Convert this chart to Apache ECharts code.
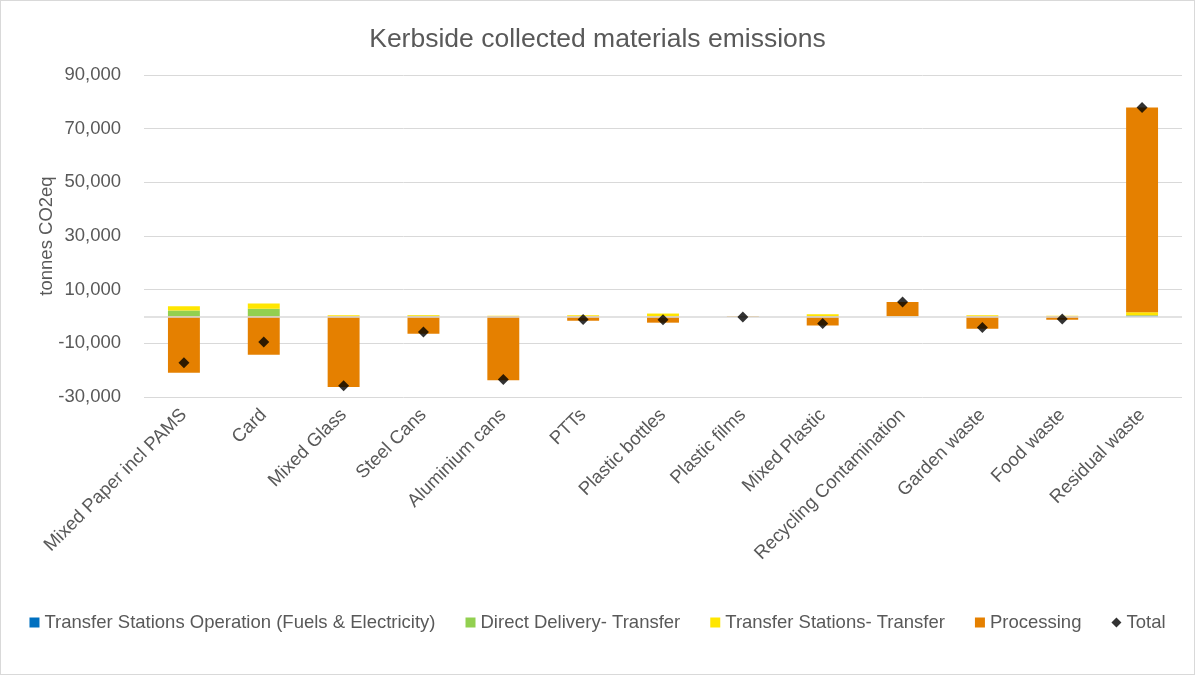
<!DOCTYPE html>
<html>
<head>
<meta charset="utf-8">
<script src="https://cdn.jsdelivr.net/npm/echarts@6/dist/echarts.min.js"></script>
<style>
  html, body { margin: 0; padding: 0; background: #fff; }
  #chart { width: 1195px; height: 675px; box-sizing: border-box; border: 1px solid #d9d9d9; }
</style>
</head>
<body>
<div id="chart"></div>
<script>
// Kerbside materials, emissions by stage (tonnes CO2eq)
const categories = [
  'Mixed Paper incl PAMS', 'Card', 'Mixed Glass', 'Steel Cans', 'Aluminium cans',
  'PTTs', 'Plastic bottles', 'Plastic films', 'Mixed Plastic',
  'Recycling Contamination', 'Garden waste', 'Food waste', 'Residual waste'
];
const tsOperation    = [0, 0, 0, 0, 0, 0, 0, 0, 0, 0, 0, 0, 400];
const directDelivery = [2200, 2850, 0, 300, 0, 0, 0, 0, 200, 0, 0, 0, 0];
const tsTransfer     = [1600, 1950, 500, 300, 300, 500, 1100, 50, 600, 100, 500, 300, 1200];
const processing     = [-21000, -14300, -26300, -6400, -23800, -1600, -2300, -200, -3400, 5300, -4600, -1200, 76300];
const yTicks = { min: -30000, max: 90000, interval: 20000 };

const seriesNames = [
  'Transfer Stations Operation (Fuels & Electricity)',
  'Direct Delivery- Transfer',
  'Transfer Stations- Transfer',
  'Processing',
  'Total'
];
const colors = ['#0070c0', '#92d050', '#ffe600', '#e58000', '#000000'];

// Total per material = sum of its stages
const totals = categories.map((_, i) =>
  tsOperation[i] + directDelivery[i] + tsTransfer[i] + processing[i]);

const textColor = '#595959';
const font = 'Liberation Sans, Arial, sans-serif';
const fs = 18.5;

function barSeries(name, data, color, extra) {
  return Object.assign({
    name: name,
    type: 'bar',
    stack: 'emissions',
    barWidth: '40%',
    data: data,
    itemStyle: { color: color },
    emphasis: { disabled: true }
  }, extra || {});
}

const chart = echarts.init(document.getElementById('chart'));
chart.setOption({
  animation: false,
  textStyle: { fontFamily: font },
  title: {
    text: 'Kerbside collected materials emissions',
    left: 'center',
    top: 20,
    textStyle: { color: textColor, fontSize: 26.5, fontWeight: 'normal', fontFamily: font }
  },
  grid: { left: 143, right: 12, top: 74, bottom: 277 },
  legend: {
    bottom: 37,
    left: 'center',
    itemWidth: 10,
    itemHeight: 10,
    itemGap: 30,
    textStyle: { color: textColor, fontSize: fs, fontFamily: font },
    data: [
      { name: seriesNames[0], icon: 'rect' },
      { name: seriesNames[1], icon: 'rect' },
      { name: seriesNames[2], icon: 'rect' },
      { name: seriesNames[3], icon: 'rect' },
      { name: seriesNames[4], icon: 'diamond' }
    ]
  },
  xAxis: {
    type: 'category',
    data: categories,
    axisLine: { show: false, onZero: false },
    axisTick: { show: false },
    axisLabel: {
      interval: 0,
      rotate: 45,
      margin: 15,
      color: textColor,
      fontSize: fs,
      fontFamily: font
    }
  },
  yAxis: {
    type: 'value',
    min: yTicks.min,
    max: yTicks.max,
    interval: yTicks.interval,
    name: 'tonnes CO2eq',
    nameLocation: 'middle',
    nameGap: 88,
    nameMoveOverlap: false,
    nameTextStyle: { color: textColor, fontSize: fs, fontFamily: font },
    axisLine: { show: false },
    axisTick: { show: false },
    splitLine: { lineStyle: { color: '#d9d9d9', width: 1 } },
    axisLabel: {
      margin: 23,
      color: textColor,
      fontSize: fs,
      fontFamily: font,
      formatter: v => v.toLocaleString('en-US')
    }
  },
  series: [
    barSeries(seriesNames[0], tsOperation, colors[0]),
    barSeries(seriesNames[1], directDelivery, colors[1]),
    barSeries(seriesNames[2], tsTransfer, colors[2]),
    barSeries(seriesNames[3], processing, colors[3], {
      markLine: {
        silent: true,
        symbol: 'none',
        label: { show: false },
        lineStyle: { color: '#d9d9d9', width: 1.5, type: 'solid' },
        data: [{ yAxis: 0 }]
      }
    }),
    {
      name: seriesNames[4],
      type: 'scatter',
      symbol: 'diamond',
      symbolSize: 11,
      data: totals,
      itemStyle: { color: colors[4] },
      z: 5
    }
  ]
});
</script>
</body>
</html>
